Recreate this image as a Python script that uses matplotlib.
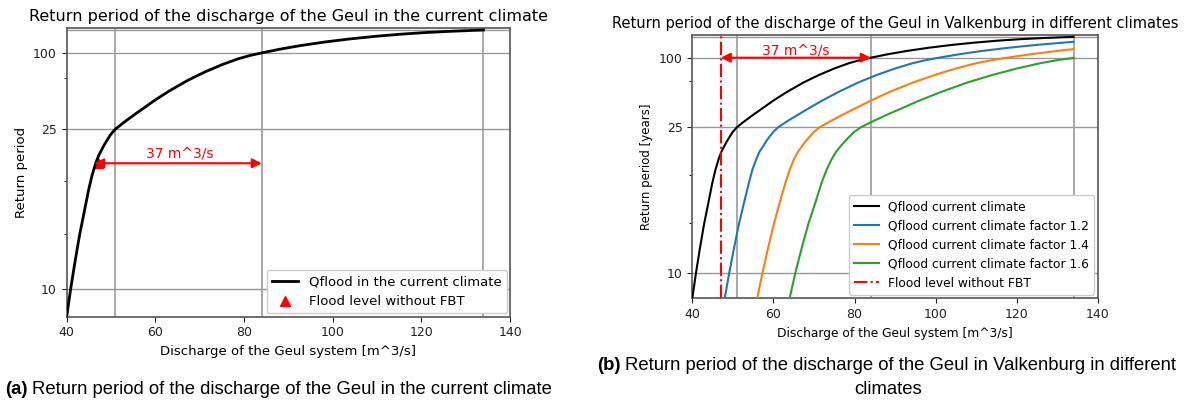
import numpy as np
import matplotlib
matplotlib.use("Agg")
import matplotlib.pyplot as plt

# Discharge of the Geul [m^3/s] against return period [years]
q_current = [40.0, 40.9, 41.9, 42.9, 44.0, 44.9, 45.7, 46.5, 47.2, 47.9, 48.5, 49.2,
             49.9, 50.5, 51.0, 53.2, 55.4, 57.7, 59.9, 63.3, 67.4, 71.2, 75.0, 78.6,
             81.4, 84.0, 88.1, 92.6, 98.3, 103.9, 109.6, 115.2, 120.8, 126.5, 134.0]
t_current = [9.09, 10.0, 11.13, 12.45, 14.04, 15.71, 17.26, 18.74, 19.89, 20.85, 21.72, 22.68,
             23.72, 24.4, 25.0, 27.0, 29.2, 31.8, 34.8, 40.1, 48.0, 56.9, 67.9, 80.6,
             90.8, 100.0, 117.4, 140.6, 177.9, 227.7, 297.6, 398.2, 542.4, 747.6, 1250.0]

q_f12 = [48.0, 49.1, 50.3, 51.5, 52.8, 53.9, 54.8, 55.8, 56.6, 57.5, 58.2, 59.0,
         59.9, 60.6, 61.2, 63.8, 66.5, 69.2, 71.9, 76.0, 80.9, 85.4, 90.0, 94.3,
         97.7, 100.8, 105.7, 111.1, 118.0, 124.7, 131.5, 134.0]
t_f12 = [9.09, 10.0, 11.13, 12.45, 14.04, 15.71, 17.26, 18.74, 19.89, 20.85, 21.72, 22.68,
         23.72, 24.4, 25.0, 27.0, 29.2, 31.8, 34.8, 40.1, 48.0, 56.9, 67.9, 80.6,
         90.8, 100.0, 117.4, 140.6, 177.9, 227.7, 297.6, 335.0]

q_f14 = [56.0, 57.3, 58.7, 60.1, 61.6, 62.9, 64.0, 65.1, 66.1, 67.1, 67.9, 68.9,
         69.9, 70.7, 71.4, 74.5, 77.6, 80.8, 83.9, 88.6, 94.4, 99.7, 105.0, 110.0,
         114.0, 117.6, 123.3, 129.6, 134.0]
t_f14 = [9.09, 10.0, 11.13, 12.45, 14.04, 15.71, 17.26, 18.74, 19.89, 20.85, 21.72, 22.68,
         23.72, 24.4, 25.0, 27.0, 29.2, 31.8, 34.8, 40.1, 48.0, 56.9, 67.9, 80.6,
         90.8, 100.0, 117.4, 140.6, 161.0]

q_f16 = [64.0, 65.4, 67.0, 68.6, 70.4, 71.8, 73.1, 74.4, 75.5, 76.6, 77.6, 78.7,
         79.8, 80.8, 81.6, 85.1, 88.6, 92.3, 95.8, 101.3, 107.8, 113.9, 120.0, 125.8,
         130.2, 134.0]
t_f16 = [9.09, 10.0, 11.13, 12.45, 14.04, 15.71, 17.26, 18.74, 19.89, 20.85, 21.72, 22.68,
         23.72, 24.4, 25.0, 27.0, 29.2, 31.8, 34.8, 40.1, 48.0, 56.9, 67.9, 80.6,
         90.8, 99.0]

# reference levels
q_ref = [51, 84, 134]          # discharge at T = 25, 100, 1250
t_ref = [10, 25, 100, 1250]
q_flood = 47                   # flood level without FBT
q_gap = 84                     # end of the 37 m^3/s arrow
t_arrow_a = 18.8
t_arrow_b = 100

t_ticks = [10, 25, 100]
t_minor = [12.5, 16.667, 50]


def fwd(t):
    t = np.asarray(t, dtype=float)
    with np.errstate(all='ignore'):
        return np.log(1 - 1 / t)


def inv(y):
    y = np.asarray(y, dtype=float)
    with np.errstate(all='ignore'):
        return 1 / (1 - np.exp(y))


def setup_axes(ax):
    ax.set_yscale('function', functions=(fwd, inv))
    ax.set_xlim(40, 140)
    ax.set_ylim(9.08, 1e9)
    ax.set_xticks([40, 60, 80, 100, 120, 140])
    ax.set_yticks(t_ticks, [str(t) for t in t_ticks])
    ax.set_yticks(t_minor, minor=True)
    ax.tick_params(labelsize=9, colors='#222222')
    for t in t_ref:
        ax.axhline(t, color='#999999', lw=1.0, zorder=1)
    for q in q_ref:
        ax.axvline(q, color='#999999', lw=1.2, zorder=1)
    for s in ax.spines.values():
        s.set_color('#555555')
        s.set_linewidth(1.2)


fig = plt.figure(figsize=(11.89, 4.03), dpi=100)

# (a) current climate
ax1 = fig.add_axes([0.0561, 0.2141, 0.3729, 0.7164])
setup_axes(ax1)
ax1.plot(q_current, t_current, color='black', lw=2, label='Qflood in the current climate', zorder=3)
ax1.plot([q_flood], [t_arrow_a], linestyle='none', marker='^', color='red', ms=7,
         label='Flood level without FBT', zorder=2)
ax1.annotate('', xy=(q_flood - 0.8, t_arrow_a), xytext=(q_gap, t_arrow_a),
             arrowprops=dict(arrowstyle='<|-|>', color='red', lw=1.5, mutation_scale=14,
                             shrinkA=0, shrinkB=0))
ax1.text((q_flood + q_gap) / 2, 20.15, '37 m^3/s', color='red', ha='center', va='center', fontsize=10)
ax1.set_title('Return period of the discharge of the Geul in the current climate', fontsize=11.5, pad=5)
ax1.set_xlabel('Discharge of the Geul system [m^3/s]', fontsize=9.5)
ax1.set_ylabel('Return period', fontsize=9.5)
ax1.legend(loc='lower right', fontsize=9.5, framealpha=1, borderaxespad=0.25)

# (b) different climates
ax2 = fig.add_axes([0.5823, 0.2598, 0.3411, 0.6533])
setup_axes(ax2)
ax2.plot(q_current, t_current, color='black', lw=1.5, label='Qflood current climate', zorder=3)
ax2.plot(q_f12, t_f12, color='tab:blue', lw=1.5, label='Qflood current climate factor 1.2', zorder=3)
ax2.plot(q_f14, t_f14, color='tab:orange', lw=1.5, label='Qflood current climate factor 1.4', zorder=3)
ax2.plot(q_f16, t_f16, color='tab:green', lw=1.5, label='Qflood current climate factor 1.6', zorder=3)
ax2.axvline(q_flood, color='red', ls='-.', lw=1.5, label='Flood level without FBT', zorder=3)
ax2.annotate('', xy=(q_flood, t_arrow_b), xytext=(q_gap, t_arrow_b),
             arrowprops=dict(arrowstyle='<|-|>', color='red', lw=1.5, mutation_scale=14,
                             shrinkA=0, shrinkB=0))
ax2.text((q_flood + q_gap) / 2, 151, '37 m^3/s', color='red', ha='center', va='center', fontsize=10)
ax2.set_title('Return period of the discharge of the Geul in Valkenburg in different climates',
              fontsize=10.5, pad=5)
ax2.set_xlabel('Discharge of the Geul system [m^3/s]', fontsize=8.8)
ax2.set_ylabel('Return period [years]', fontsize=8.5)
ax2.tick_params(labelsize=9)
ax2.legend(loc='lower right', fontsize=8.8, framealpha=1, borderaxespad=0.3)

# captions below the panels
cap_font = dict(family='Liberation Sans', fontsize=13.3, color='black')
fig.canvas.draw()
renderer = fig.canvas.get_renderer()


def caption(x, y, tag, rest):
    t = fig.text(x / 1189, 1 - y / 403, tag, fontweight='bold', va='center', ha='left', **cap_font)
    bb = t.get_window_extent(renderer)
    fig.text(bb.x1 / 1189 + 0.004, 1 - y / 403, rest, va='center', ha='left', **cap_font)


caption(5, 389, '(a)', 'Return period of the discharge of the Geul in the current climate')
caption(597, 366, '(b)', 'Return period of the discharge of the Geul in Valkenburg in different')
fig.text(888 / 1189, 1 - 389 / 403, 'climates', va='center', ha='center', **cap_font)

fig.savefig('out.png', dpi=100)
